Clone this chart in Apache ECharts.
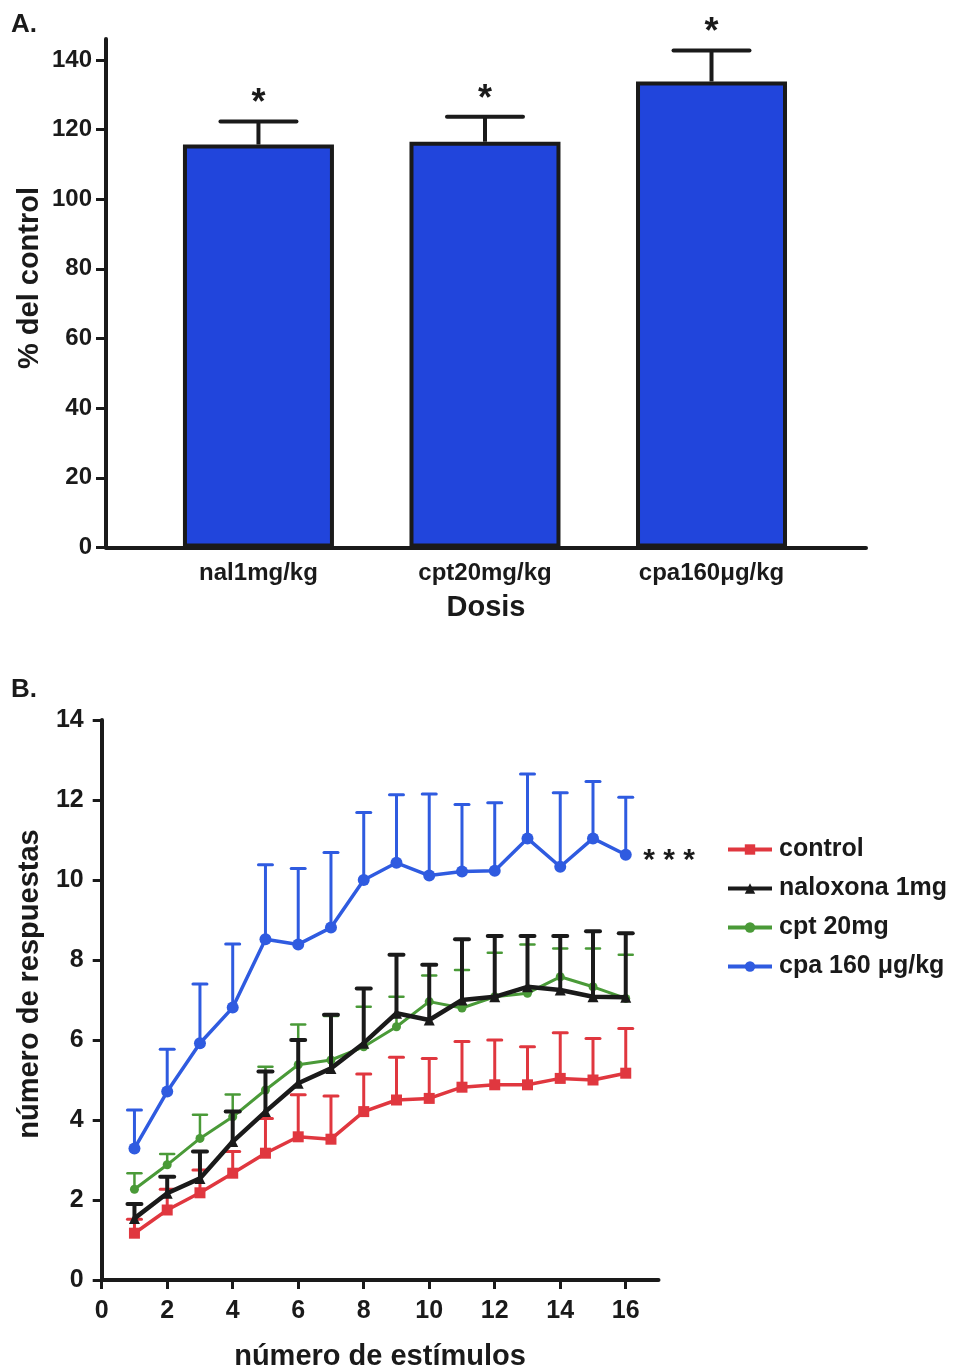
<!DOCTYPE html>
<html>
<head>
<meta charset="utf-8">
<script src="https://cdn.jsdelivr.net/npm/echarts@6/dist/echarts.min.js"></script>
<style>
  html, body { margin: 0; padding: 0; background: #ffffff; }
  #chart { width: 960px; height: 1372px; }
</style>
</head>
<body>
<div id="chart"></div>
<script>
// ---- Panel A: responses as % of control, by dose ----
const doseCategories = ['nal1mg/kg', 'cpt20mg/kg', 'cpa160\u03bcg/kg'];
const dosePositions = [1, 2, 3];
const doseMeans = [115.7, 116.5, 133.8];
const doseSem = [6.6, 7.2, 8.9];
const doseMarks = ['*', '*', '*'];
const pctTicks = [0, 20, 40, 60, 80, 100, 120, 140];

// ---- Panel B: number of responses across stimuli ----
const stimuli = [1, 2, 3, 4, 5, 6, 7, 8, 9, 10, 11, 12, 13, 14, 15, 16];
const stimulusTicks = [0, 2, 4, 6, 8, 10, 12, 14, 16];

const controlMean = [1.17, 1.75, 2.18, 2.67, 3.17, 3.58, 3.52, 4.21, 4.50, 4.54, 4.82, 4.88, 4.88, 5.04, 5.00, 5.17];
const controlSem  = [0.35, 0.52, 0.57, 0.54, 0.87, 1.05, 1.08, 0.94, 1.07, 1.00, 1.14, 1.12, 0.95, 1.14, 1.04, 1.12];

const naloxonaMean = [1.54, 2.17, 2.54, 3.46, 4.21, 4.92, 5.29, 5.92, 6.67, 6.50, 7.00, 7.08, 7.33, 7.25, 7.08, 7.07];
const naloxonaSem  = [0.36, 0.41, 0.67, 0.75, 1.00, 1.08, 1.34, 1.37, 1.46, 1.38, 1.52, 1.52, 1.27, 1.35, 1.64, 1.60];

const cptMean = [2.27, 2.88, 3.54, 4.08, 4.75, 5.38, 5.50, 5.83, 6.33, 6.96, 6.80, 7.08, 7.17, 7.58, 7.33, 7.04];
const cptSem  = [0.40, 0.27, 0.59, 0.56, 0.58, 1.01, 1.10, 1.00, 0.75, 0.65, 0.95, 1.10, 1.22, 0.71, 0.96, 1.09];

const cpaMean = [3.29, 4.71, 5.92, 6.81, 8.52, 8.39, 8.81, 10.00, 10.43, 10.11, 10.21, 10.23, 11.04, 10.33, 11.04, 10.63];
const cpaSem  = [0.96, 1.06, 1.48, 1.59, 1.86, 1.90, 1.88, 1.69, 1.70, 2.04, 1.68, 1.70, 1.61, 1.85, 1.42, 1.44];

const groups = [
  { name: 'control',            mean: controlMean,  sem: controlSem,  color: '#e0373f', symbol: 'rect',     size: 11, width: 3.5 },
  { name: 'cpt 20mg',           mean: cptMean,      sem: cptSem,      color: '#4a9a38', symbol: 'circle',   size: 9,  width: 3 },
  { name: 'naloxona 1mg',       mean: naloxonaMean, sem: naloxonaSem, color: '#1a1a1a', symbol: 'triangle', size: 11, width: 4.5 },
  { name: 'cpa 160 \u03bcg/kg', mean: cpaMean,      sem: cpaSem,      color: '#2f5be0', symbol: 'circle',   size: 12, width: 3.5 }
];
const legendOrder = ['control', 'naloxona 1mg', 'cpt 20mg', 'cpa 160 \u03bcg/kg'];

const FONT = '"Liberation Sans", Arial, Helvetica, sans-serif';
const INK = '#1a1a1a';

const chart = echarts.init(document.getElementById('chart'), null, { renderer: 'canvas' });

// upward-only error bar with a horizontal cap, optionally with a text mark above
function errorBarRenderer(color, lineWidth, capHalf, markFont) {
  return function (params, api) {
    const x = api.value(0);
    const mean = api.value(1);
    const top = api.value(2);
    const p0 = api.coord([x, mean]);
    const p1 = api.coord([x, top]);
    const children = [
      { type: 'line', shape: { x1: p0[0], y1: p0[1], x2: p1[0], y2: p1[1] },
        style: { stroke: color, lineWidth: lineWidth } },
      { type: 'line', shape: { x1: p1[0] - capHalf, y1: p1[1], x2: p1[0] + capHalf, y2: p1[1] },
        style: { stroke: color, lineWidth: lineWidth, lineCap: 'round' } }
    ];
    if (markFont) {
      const mark = doseMarks[params.dataIndex];
      children.push({
        type: 'text',
        style: { text: mark, x: p1[0], y: p1[1] + 1, align: 'center', verticalAlign: 'bottom',
                 font: markFont, fill: INK }
      });
    }
    return { type: 'group', children: children };
  };
}

const series = [];

// Panel A bars
series.push({
  type: 'bar',
  xAxisIndex: 0, yAxisIndex: 0,
  barWidth: 151,
  data: dosePositions.map((p, i) => [p, doseMeans[i]]),
  itemStyle: { color: '#2145dc', borderColor: INK, borderWidth: 4 },
  silent: true,
  z: 2
});
series.push({
  type: 'custom',
  xAxisIndex: 0, yAxisIndex: 0,
  data: dosePositions.map((p, i) => [p, doseMeans[i], doseMeans[i] + doseSem[i]]),
  encode: { x: 0, y: [1, 2] },
  renderItem: errorBarRenderer(INK, 4, 38, 'bold 36px ' + FONT),
  silent: true,
  z: 1
});

// Panel B error bars and lines
groups.forEach((g, gi) => {
  series.push({
    type: 'custom',
    name: g.name + ' sem',
    xAxisIndex: 1, yAxisIndex: 1,
    data: stimuli.map((s, i) => [s, g.mean[i], g.mean[i] + g.sem[i]]),
    encode: { x: 0, y: [1, 2] },
    renderItem: errorBarRenderer(g.color, g.width - 0.5, 7, null),
    silent: true,
    z: 3 + gi * 2
  });
  series.push({
    type: 'line',
    name: g.name,
    xAxisIndex: 1, yAxisIndex: 1,
    data: stimuli.map((s, i) => [s, g.mean[i]]),
    symbol: g.symbol,
    symbolSize: g.size,
    showSymbol: true,
    lineStyle: { color: g.color, width: g.width },
    itemStyle: { color: g.color },
    silent: true,
    animation: false,
    z: 4 + gi * 2
  });
});

const axisLineStyle = { show: true, lineStyle: { color: INK, width: 4 } };
const labelStyle = { color: INK, fontFamily: FONT, fontWeight: 'bold', fontSize: 24 };

const option = {
  animation: false,
  backgroundColor: '#ffffff',
  grid: [
    { left: 106, right: 94, top: 39, height: 508.5 },
    { left: 101.7, right: 301.5, top: 720, height: 560 }
  ],
  xAxis: [
    {
      gridIndex: 0, type: 'value', min: 0.327, max: 3.682,
      axisLine: axisLineStyle,
      axisTick: { show: false },
      splitLine: { show: false },
      axisLabel: Object.assign({}, labelStyle, {
        fontSize: 24, margin: 14,
        customValues: dosePositions,
        formatter: v => doseCategories[Math.round(v) - 1] || ''
      })
    },
    {
      gridIndex: 1, type: 'value', min: 0, max: 17,
      axisLine: axisLineStyle,
      axisTick: { show: true, length: 9, lineStyle: { color: INK, width: 3 }, customValues: stimulusTicks },
      splitLine: { show: false },
      axisLabel: Object.assign({}, labelStyle, { fontSize: 25, margin: 19, customValues: stimulusTicks })
    }
  ],
  yAxis: [
    {
      gridIndex: 0, type: 'value', min: 0, max: 146,
      axisLine: axisLineStyle,
      axisTick: { show: true, length: 10, lineStyle: { color: INK, width: 3 }, customValues: pctTicks },
      splitLine: { show: false },
      axisLabel: Object.assign({}, labelStyle, { margin: 14, customValues: pctTicks })
    },
    {
      gridIndex: 1, type: 'value', min: 0, max: 14, interval: 2,
      axisLine: axisLineStyle,
      axisTick: { show: true, length: 9, lineStyle: { color: INK, width: 3 } },
      splitLine: { show: false },
      axisLabel: Object.assign({}, labelStyle, { fontSize: 25, margin: 18 })
    }
  ],
  legend: {
    data: legendOrder,
    orient: 'vertical',
    left: 721,
    top: 832,
    itemWidth: 44,
    itemHeight: 13,
    itemGap: 14,
    selectedMode: false,
    lineStyle: { width: 4 },
    textStyle: { color: INK, fontFamily: FONT, fontWeight: 'bold', fontSize: 25, padding: [0, 0, 0, 2] }
  },
  graphic: [
    { type: 'text', left: 11, top: 12, style: { text: 'A.', font: 'bold 26px ' + FONT, fill: INK } },
    { type: 'text', left: 11, top: 677, style: { text: 'B.', font: 'bold 26px ' + FONT, fill: INK } },
    { type: 'text', x: 30, y: 278, rotation: Math.PI / 2,
      style: { text: '% del control', font: 'bold 29px ' + FONT, fill: INK, align: 'center', verticalAlign: 'middle' } },
    { type: 'text', x: 486, y: 608,
      style: { text: 'Dosis', font: 'bold 29px ' + FONT, fill: INK, align: 'center', verticalAlign: 'middle' } },
    { type: 'text', x: 30, y: 984, rotation: Math.PI / 2,
      style: { text: 'n\u00famero de respuestas', font: 'bold 29px ' + FONT, fill: INK, align: 'center', verticalAlign: 'middle' } },
    { type: 'text', x: 380, y: 1357,
      style: { text: 'n\u00famero de est\u00edmulos', font: 'bold 29px ' + FONT, fill: INK, align: 'center', verticalAlign: 'middle' } },
    { type: 'text', x: 669, y: 861,
      style: { text: '* * *', font: 'bold 30px ' + FONT, fill: INK, align: 'center', verticalAlign: 'middle' } }
  ],
  series: series
};

chart.setOption(option);
</script>
</body>
</html>
